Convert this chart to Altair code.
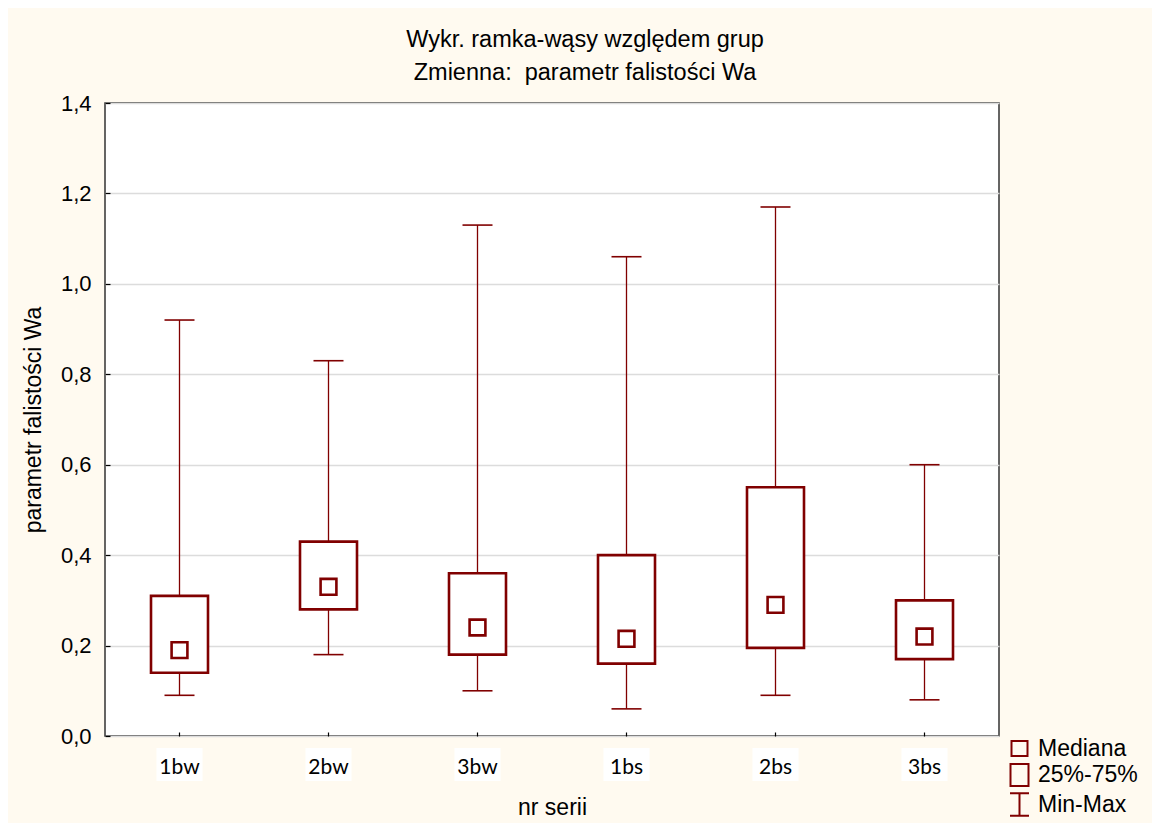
import altair as alt
import pandas as pd

# ---- data ----
cats = ["1bw", "2bw", "3bw", "1bs", "2bs", "3bs"]
mins = [0.09, 0.18, 0.10, 0.06, 0.09, 0.08]
q1s = [0.14, 0.28, 0.18, 0.16, 0.195, 0.17]
meds = [0.19, 0.33, 0.24, 0.215, 0.29, 0.22]
q3s = [0.31, 0.43, 0.36, 0.40, 0.55, 0.30]
maxs = [0.92, 0.83, 1.13, 1.06, 1.17, 0.60]
y_ticks = [0.0, 0.2, 0.4, 0.6, 0.8, 1.0, 1.2, 1.4]

leg_names = ["Mediana", "25%-75%", "Min-Max"]
leg_paths = [
    "M-0.8,-0.75H0.8V0.75H-0.8Z",
    "M-0.9,-1.1H0.9V1.1H-0.9Z",
    "M-0.95,-1.12H0.95M0,-1.12V1.12M-0.95,1.12H0.95",
]

df = pd.DataFrame({"cat": cats, "mn": mins, "q1": q1s, "med": meds, "q3": q3s, "mx": maxs})
leg_df = pd.DataFrame({"leg": leg_names, "cat": [cats[0]] * 3, "v": [-1.0] * 3})

RED = "#800000"
FONT = "Liberation Sans"

yscale = alt.Scale(domain=[0, 1.4], nice=False, zero=False)
xscale = alt.Scale(domain=cats, paddingInner=0, paddingOuter=0)

x_axis = alt.Axis(
    title="nr serii", labelAngle=0, labelAlign="center", domain=False, ticks=True,
    tickSize=4, offset=-4, tickColor="black", tickWidth=1.2, labelFont="Lato",
    labelFontSize=21, labelColor="black", labelPadding=31, titleFont=FONT,
    titleFontSize=23, titleFontWeight="normal", titleColor="black", titlePadding=19,
    grid=False, zindex=1,
)
y_axis = alt.Axis(
    title="parametr falistości Wa", values=y_ticks,
    labelExpr="replace(format(datum.value, '.1f'), '.', ',')",
    domain=False, ticks=True, tickSize=5, offset=-5, tickColor="black", tickWidth=1.2,
    labelFont=FONT, labelFontSize=22, labelColor="black", labelPadding=14,
    titleFont=FONT, titleFontSize=23, titleFontWeight="normal", titleColor="black",
    titlePadding=15, grid=True, gridColor="#DCDCDC", gridWidth=1.5,
)

base = alt.Chart(df)
X = alt.X("cat:N", sort=cats, scale=xscale, axis=x_axis)
Xn = alt.X("cat:N", sort=cats, scale=xscale)

whiskers = base.mark_rule(color=RED, strokeWidth=1.3).encode(
    x=X, y=alt.Y("mn:Q", scale=yscale, axis=y_axis), y2="mx:Q"
)
cap_lo = base.mark_tick(color=RED, size=30, thickness=1.6, opacity=1).encode(
    x=Xn, y=alt.Y("mn:Q", scale=yscale)
)
cap_hi = base.mark_tick(color=RED, size=30, thickness=1.6, opacity=1).encode(
    x=Xn, y=alt.Y("mx:Q", scale=yscale)
)
boxes = base.mark_bar(fill="white", stroke=RED, strokeWidth=2.6, size=57).encode(
    x=Xn, y=alt.Y("q1:Q", scale=yscale), y2="q3:Q"
)
medians = base.mark_point(
    shape="square", filled=True, fill="white", stroke=RED, strokeWidth=2.6, size=250, opacity=1
).encode(x=Xn, y=alt.Y("med:Q", scale=yscale))
label_bg = base.mark_bar(fill="white", size=46, clip=False).encode(
    x=Xn, y=alt.value(645), y2=alt.value(678)
)
legend_layer = alt.Chart(leg_df).mark_point(
    clip=True, filled=False, color=RED, strokeWidth=2, size=400, opacity=1
).encode(
    x=Xn,
    y=alt.Y("v:Q", scale=yscale),
    shape=alt.Shape(
        "leg:N",
        scale=alt.Scale(domain=leg_names, range=leg_paths),
        legend=alt.Legend(
            title=None, orient="none", legendX=903, legendY=634, padding=0,
            labelFont=FONT, labelFontSize=23, labelColor="black", labelOffset=7,
            labelLimit=300, rowPadding=-1.5, symbolSize=400, symbolStrokeWidth=2,
            symbolStrokeColor=RED, symbolFillColor="transparent", symbolOpacity=1,
        ),
    ),
)

chart = alt.layer(
    label_bg, whiskers, cap_lo, cap_hi, boxes, medians, legend_layer
).properties(
    width=894,
    height=633,
    autosize=alt.AutoSizeParams(type="none"),
    padding={"left": 97, "top": 95, "right": 153, "bottom": 95},
    background="#FFFAF0",
    title=alt.TitleParams(
        text=["Wykr. ramka-wąsy względem grup", "Zmienna:\u00a0 parametr falistości Wa"],
        font=FONT, fontSize=23.5, fontWeight="normal", color="black",
        anchor="middle", dx=33, offset=8, lineHeight=33,
    ),
).configure_view(
    fill="white", stroke="#333333", strokeWidth=1.5
)

chart.save("out.html", embed_options={"renderer": "svg", "actions": False})
